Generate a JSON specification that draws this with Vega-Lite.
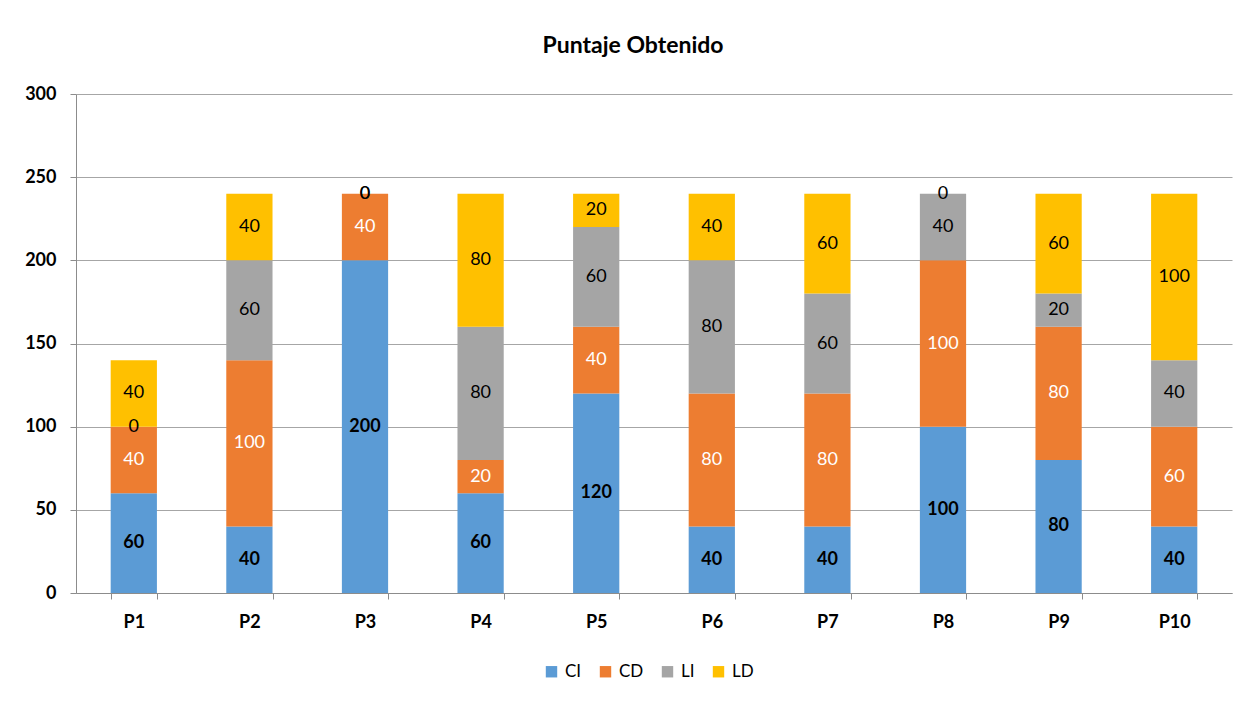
{
  "$schema": "https://vega.github.io/schema/vega-lite/v6.json",
  "width": 1156,
  "height": 499,
  "autosize": {"type": "none"},
  "padding": {"left": 76, "top": 94, "right": 28, "bottom": 110},
  "background": "#ffffff",
  "title": {
    "text": "Puntaje Obtenido",
    "font": "Lato",
    "fontSize": 23,
    "fontWeight": "bold",
    "color": "#000000",
    "anchor": "middle",
    "dx": -21,
    "offset": 27
  },
  "config": {"view": {"stroke": null}, "font": "Lato"},
  "data": {
    "values": [
      {"P": "P1", "s": "CI", "v": 60}, {"P": "P1", "s": "CD", "v": 40}, {"P": "P1", "s": "LI", "v": 0}, {"P": "P1", "s": "LD", "v": 40},
      {"P": "P2", "s": "CI", "v": 40}, {"P": "P2", "s": "CD", "v": 100}, {"P": "P2", "s": "LI", "v": 60}, {"P": "P2", "s": "LD", "v": 40},
      {"P": "P3", "s": "CI", "v": 200}, {"P": "P3", "s": "CD", "v": 40}, {"P": "P3", "s": "LI", "v": 0}, {"P": "P3", "s": "LD", "v": 0},
      {"P": "P4", "s": "CI", "v": 60}, {"P": "P4", "s": "CD", "v": 20}, {"P": "P4", "s": "LI", "v": 80}, {"P": "P4", "s": "LD", "v": 80},
      {"P": "P5", "s": "CI", "v": 120}, {"P": "P5", "s": "CD", "v": 40}, {"P": "P5", "s": "LI", "v": 60}, {"P": "P5", "s": "LD", "v": 20},
      {"P": "P6", "s": "CI", "v": 40}, {"P": "P6", "s": "CD", "v": 80}, {"P": "P6", "s": "LI", "v": 80}, {"P": "P6", "s": "LD", "v": 40},
      {"P": "P7", "s": "CI", "v": 40}, {"P": "P7", "s": "CD", "v": 80}, {"P": "P7", "s": "LI", "v": 60}, {"P": "P7", "s": "LD", "v": 60},
      {"P": "P8", "s": "CI", "v": 100}, {"P": "P8", "s": "CD", "v": 100}, {"P": "P8", "s": "LI", "v": 40}, {"P": "P8", "s": "LD", "v": 0},
      {"P": "P9", "s": "CI", "v": 80}, {"P": "P9", "s": "CD", "v": 80}, {"P": "P9", "s": "LI", "v": 20}, {"P": "P9", "s": "LD", "v": 60},
      {"P": "P10", "s": "CI", "v": 40}, {"P": "P10", "s": "CD", "v": 60}, {"P": "P10", "s": "LI", "v": 40}, {"P": "P10", "s": "LD", "v": 100}
    ]
  },
  "transform": [
    {"calculate": "indexof(['CI','CD','LI','LD'], datum.s)", "as": "o"}
  ],
  "encoding": {
    "x": {
      "field": "P",
      "type": "nominal",
      "sort": ["P1", "P2", "P3", "P4", "P5", "P6", "P7", "P8", "P9", "P10"],
      "scale": {"paddingInner": 0.6, "paddingOuter": 0.3},
      "axis": {
        "title": null,
        "labelAngle": 0,
        "labelFont": "Lato",
        "labelFontSize": 18,
        "labelFontWeight": "bold",
        "labelColor": "#000000",
        "labelPadding": 14,
        "tickBand": "extent",
        "tickSize": 6,
        "tickColor": "#8c8c8c",
        "domainColor": "#8c8c8c",
        "grid": false
      }
    }
  },
  "layer": [
    {
      "mark": {"type": "bar"},
      "encoding": {
        "y": {
          "field": "v",
          "type": "quantitative",
          "stack": "zero",
          "title": null,
          "scale": {"domain": [0, 300], "nice": false},
          "axis": {
            "title": null,
            "values": [0, 50, 100, 150, 200, 250, 300],
            "labelFont": "Lato",
            "labelFontSize": 18,
            "labelFontWeight": "bold",
            "labelColor": "#000000",
            "labelPadding": 14,
            "tickSize": 6,
            "tickColor": "#8c8c8c",
            "domainColor": "#8c8c8c",
            "grid": true,
            "gridColor": "#a6a6a6"
          }
        },
        "color": {
          "field": "s",
          "type": "nominal",
          "sort": ["CI", "CD", "LI", "LD"],
          "scale": {
            "domain": ["CI", "CD", "LI", "LD"],
            "range": ["#5B9BD5", "#ED7D31", "#A5A5A5", "#FFC000"]
          },
          "legend": {
            "title": null,
            "orient": "none",
            "direction": "horizontal",
            "legendX": 467,
            "legendY": 569,
            "padding": 0,
            "symbolType": "square",
            "symbolSize": 130,
            "symbolStrokeWidth": 0,
            "labelFont": "Lato",
            "labelFontSize": 17,
            "labelColor": "#000000",
            "labelOffset": 5,
            "columnPadding": 15
          }
        },
        "order": {"field": "o", "type": "quantitative"}
      }
    },
    {
      "transform": [
        {"window": [{"op": "sum", "field": "v", "as": "cum"}], "groupby": ["P"], "sort": [{"field": "o"}], "frame": [null, 0]},
        {"calculate": "datum.cum - datum.v / 2", "as": "mid"}
      ],
      "layer": [
        {
          "transform": [{"filter": "datum.s === 'CI'"}],
          "mark": {"type": "text", "font": "Lato", "fontSize": 18, "fontWeight": "bold", "color": "#000000", "baseline": "middle", "align": "center"},
          "encoding": {
            "y": {"field": "mid", "type": "quantitative", "title": null},
            "text": {"field": "v", "type": "quantitative"}
          }
        },
        {
          "transform": [{"filter": "datum.s === 'CD'"}],
          "mark": {"type": "text", "font": "Lato", "fontSize": 18, "color": "#ffffff", "baseline": "middle", "align": "center"},
          "encoding": {
            "y": {"field": "mid", "type": "quantitative", "title": null},
            "text": {"field": "v", "type": "quantitative"}
          }
        },
        {
          "transform": [{"filter": "datum.s === 'LI' || datum.s === 'LD'"}],
          "mark": {"type": "text", "font": "Lato", "fontSize": 18, "color": "#000000", "baseline": "middle", "align": "center"},
          "encoding": {
            "y": {"field": "mid", "type": "quantitative", "title": null},
            "text": {"field": "v", "type": "quantitative"}
          }
        }
      ]
    }
  ]
}
